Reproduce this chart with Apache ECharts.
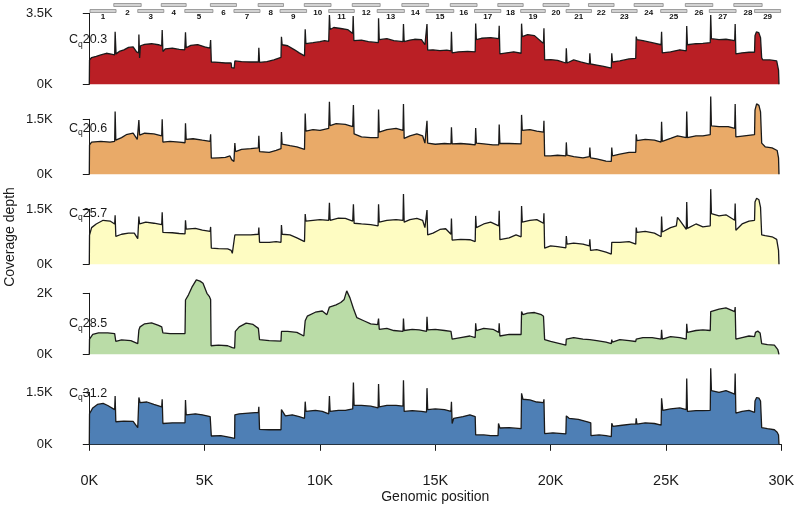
<!DOCTYPE html>
<html><head><meta charset="utf-8">
<script src="https://cdn.jsdelivr.net/npm/echarts@6/dist/echarts.min.js"></script>
<style>html,body{margin:0;padding:0;background:#fff}#c{width:800px;height:513px}</style>
</head><body><div id="c"></div>
<script>
// ---- data (positions in kb, depth in thousands of reads) ----
const xTicks = [0, 5, 10, 15, 20, 25, 30];
const ampliconLabels = ['1','2','3','4','5','6','7','8','9','10','11','12','13','14','15','16','17','18','19','20','21','22','23','24','25','26','27','28','29'];
const ampliconStart = [0.03,1.06,2.10,3.12,4.14,5.25,6.27,7.32,8.27,9.32,10.38,11.40,12.48,13.55,14.60,15.65,16.70,17.71,18.70,19.67,20.67,21.64,22.64,23.62,24.77,25.84,26.88,27.94,28.84];
const ampliconEnd   = [1.16,2.25,3.23,4.20,5.36,6.38,7.40,8.42,9.42,10.48,11.49,12.61,13.66,14.71,15.80,16.81,17.84,18.81,19.77,20.80,21.77,22.75,23.75,24.88,25.91,27.03,28.04,29.17,29.97];

const panelCq = ['20.3', '20.6', '25.7', '28.5', '31.2'];
const panelYLabelMax = [3.5, 1.5, 1.5, 2, 1.5];

const coverageCq203 = [[0,0],[0.01,1.2],[0.1,1.32],[0.3,1.38],[0.5,1.45],[0.74,1.53],[1.0,1.48],[1.1,1.45],
[1.12,2.59],[1.16,1.5],[1.3,1.62],[1.5,1.7],[1.7,1.82],[1.9,1.84],[2.05,1.6],[2.14,1.55],
[2.15,2.46],[2.18,1.3],[2.22,1.9],[2.4,1.97],[2.7,2.0],[3.0,1.95],[3.14,1.9],
[3.16,2.67],[3.19,1.62],[3.3,1.75],[3.6,1.78],[3.9,1.72],[4.14,1.7],
[4.17,2.56],[4.2,1.8],[4.4,1.92],[4.7,1.96],[5.0,1.85],[5.23,1.78],
[5.26,2.18],[5.29,1.1],[5.6,1.08],[5.9,1.05],[6.15,1.05],[6.17,0.82],[6.28,0.8],[6.31,1.15],[6.6,1.12],[7.0,1.1],[7.33,1.1],
[7.35,1.8],[7.38,1.08],[7.7,1.12],[8.0,1.2],[8.31,1.33],
[8.33,2.34],[8.36,1.95],[8.6,1.9],[8.9,1.7],[9.1,1.55],[9.33,1.4],
[9.36,2.71],[9.39,2.0],[9.7,2.05],[10.0,2.1],[10.2,2.15],[10.38,2.12],
[10.41,3.41],[10.44,2.7],[10.6,2.8],[10.9,2.75],[11.2,2.7],[11.42,2.5],
[11.44,3.36],[11.47,2.15],[11.8,2.18],[12.1,2.1],[12.53,2.05],
[12.54,3.25],[12.57,2.2],[12.9,2.25],[13.2,2.15],[13.6,2.1],
[13.62,2.97],[13.65,2.1],[13.9,2.18],[14.1,2.22],[14.4,2.2],[14.55,1.95],[14.62,1.9],
[14.64,2.97],[14.67,1.68],[14.9,1.7],[15.2,1.66],[15.5,1.68],[15.68,1.65],
[15.7,2.59],[15.73,1.55],[16.0,1.6],[16.4,1.62],[16.73,1.6],
[16.75,3.0],[16.78,2.2],[17.0,2.27],[17.4,2.3],[17.75,2.25],
[17.77,2.89],[17.8,1.5],[18.1,1.55],[18.4,1.6],[18.72,1.53],
[18.74,2.99],[18.77,2.35],[19.0,2.45],[19.3,2.4],[19.6,2.1],[19.69,2.02],
[19.71,2.76],[19.74,1.2],[20.0,1.22],[20.3,1.18],[20.66,1.05],
[20.68,1.77],[20.71,1.05],[21.0,1.2],[21.3,1.1],[21.68,1.0],
[21.7,1.53],[21.73,1.0],[22.0,0.95],[22.3,0.88],[22.63,0.8],
[22.65,1.53],[22.68,1.1],[23.0,1.15],[23.4,1.25],[23.69,1.28],
[23.71,2.35],[23.74,2.2],[24.0,2.15],[24.4,2.05],[24.79,1.95],
[24.81,2.59],[24.84,1.55],[25.2,1.6],[25.6,1.7],[25.88,1.65],
[25.9,2.87],[25.93,1.95],[26.3,2.0],[26.6,2.02],[26.92,2.05],
[26.94,3.41],[26.97,2.25],[27.3,2.2],[27.6,2.22],[27.98,2.15],
[28.0,2.97],[28.03,1.5],[28.3,1.55],[28.6,1.58],[28.84,1.58],
[28.86,2.4],[28.92,2.58],[29.02,2.55],[29.1,2.3],[29.15,1.3],[29.2,1.2],[29.5,1.2],[29.8,1.15],[29.88,0.7],[29.9,0]];

const coverageCq206 = [[0,0],[0.01,0.8],[0.1,0.88],[0.5,0.9],[0.9,0.88],[1.1,0.9],
[1.12,1.71],[1.15,0.93],[1.4,1.0],[1.6,1.08],[1.9,1.12],[2.08,0.95],[2.14,0.9],
[2.15,1.48],[2.18,1.07],[2.4,1.12],[2.8,1.1],[3.14,1.05],
[3.16,1.5],[3.19,0.88],[3.5,0.9],[3.9,0.88],[4.15,0.86],
[4.17,1.39],[4.2,0.95],[4.5,0.97],[4.9,0.93],[5.24,0.9],
[5.26,1.09],[5.29,0.44],[5.6,0.45],[5.9,0.46],[6.1,0.5],[6.17,0.4],[6.27,0.35],[6.3,0.36],
[6.31,0.85],[6.34,0.62],[6.6,0.68],[7.0,0.7],[7.33,0.72],
[7.35,1.05],[7.38,0.62],[7.8,0.6],[8.1,0.65],[8.31,0.7],
[8.33,1.15],[8.36,0.82],[8.7,0.78],[9.0,0.75],[9.33,0.68],
[9.36,1.66],[9.39,1.18],[9.7,1.22],[10.0,1.2],[10.38,1.25],
[10.41,1.98],[10.44,1.33],[10.7,1.38],[11.1,1.36],[11.42,1.3],
[11.45,1.89],[11.48,1.1],[11.8,1.02],[12.2,1.0],[12.52,1.0],
[12.54,1.77],[12.57,1.15],[12.9,1.22],[13.3,1.25],[13.6,1.2],
[13.62,1.92],[13.65,0.98],[13.9,1.05],[14.2,1.1],[14.45,1.05],[14.55,0.85],[14.62,0.83],
[14.64,1.46],[14.67,0.85],[15.0,0.82],[15.4,0.84],[15.68,0.83],
[15.7,1.28],[15.73,0.83],[16.1,0.84],[16.5,0.82],[16.73,0.8],
[16.75,1.26],[16.78,0.85],[17.1,0.83],[17.5,0.8],[17.75,0.8],
[17.77,1.36],[17.8,0.84],[18.2,0.84],[18.72,0.83],
[18.74,1.62],[18.77,1.2],[19.1,1.22],[19.4,1.18],[19.69,1.15],
[19.71,1.46],[19.74,0.5],[20.0,0.5],[20.3,0.52],[20.66,0.5],
[20.68,0.87],[20.71,0.52],[21.0,0.48],[21.4,0.45],[21.68,0.48],
[21.7,0.73],[21.73,0.45],[22.0,0.42],[22.4,0.36],[22.63,0.35],
[22.65,0.73],[22.68,0.5],[23.0,0.55],[23.4,0.6],[23.69,0.6],
[23.71,1.09],[23.74,0.92],[24.1,0.95],[24.5,0.93],[24.79,0.88],
[24.81,1.43],[24.84,0.9],[25.2,0.98],[25.5,1.05],[25.88,1.0],
[25.9,1.71],[25.93,1.0],[26.3,1.05],[26.6,1.05],[26.92,1.08],
[26.94,2.12],[26.97,1.32],[27.3,1.3],[27.7,1.3],[27.98,1.25],
[28.0,1.92],[28.03,1.02],[28.4,1.05],[28.84,1.08],
[28.86,1.75],[28.93,1.92],[29.03,1.88],[29.1,1.7],[29.15,0.85],[29.3,0.75],[29.6,0.72],[29.82,0.65],[29.88,0.45],[29.9,0]];

const coverageCq257 = [[0,0],[0.01,0.8],[0.1,1.0],[0.3,1.1],[0.6,1.2],[0.9,1.18],[1.1,1.1],
[1.12,1.34],[1.15,0.76],[1.4,0.82],[1.7,0.85],[1.95,0.85],[2.1,0.7],[2.14,0.68],
[2.15,1.3],[2.18,1.1],[2.45,1.15],[2.8,1.12],[3.14,1.08],
[3.16,1.42],[3.19,0.87],[3.6,0.86],[3.9,0.84],[4.15,0.83],
[4.17,1.2],[4.2,0.96],[4.6,0.98],[4.9,0.93],[5.24,0.9],
[5.26,1.02],[5.29,0.44],[5.6,0.43],[6.0,0.42],[6.15,0.38],[6.2,0.3],[6.28,0.3],
[6.31,0.8],[6.34,0.78],[6.7,0.8],[7.0,0.8],[7.33,0.82],
[7.35,1.0],[7.38,0.6],[7.8,0.6],[8.1,0.62],[8.31,0.6],
[8.33,1.07],[8.36,0.82],[8.7,0.8],[9.0,0.72],[9.33,0.62],
[9.36,1.37],[9.39,1.18],[9.7,1.2],[10.0,1.22],[10.38,1.2],
[10.41,1.68],[10.44,1.2],[10.8,1.26],[11.1,1.25],[11.42,1.18],
[11.45,1.64],[11.48,1.12],[11.8,1.1],[12.2,1.08],[12.52,1.05],
[12.54,1.64],[12.57,1.15],[12.9,1.2],[13.3,1.22],[13.6,1.2],
[13.62,1.92],[13.65,1.15],[13.9,1.22],[14.2,1.25],[14.45,1.2],[14.55,1.0],[14.62,0.97],
[14.64,1.48],[14.67,0.8],[14.9,0.85],[15.2,0.95],[15.45,0.97],[15.68,0.82],
[15.7,1.25],[15.73,0.66],[16.1,0.68],[16.5,0.67],[16.73,0.62],
[16.75,1.32],[16.78,1.0],[17.1,1.1],[17.4,1.15],[17.75,1.05],
[17.77,1.46],[17.8,0.67],[18.2,0.72],[18.5,0.8],[18.72,0.75],
[18.74,1.59],[18.77,1.15],[19.1,1.2],[19.4,1.22],[19.69,1.12],
[19.71,1.39],[19.74,0.44],[20.0,0.5],[20.3,0.48],[20.66,0.45],
[20.68,0.77],[20.71,0.55],[21.0,0.58],[21.4,0.55],[21.68,0.5],
[21.7,0.68],[21.73,0.38],[22.0,0.4],[22.4,0.33],[22.63,0.28],
[22.65,0.6],[22.68,0.58],[23.0,0.6],[23.4,0.62],[23.69,0.55],
[23.71,1.0],[23.74,0.87],[24.1,0.9],[24.5,0.85],[24.79,0.75],
[24.81,1.3],[24.84,0.88],[25.2,1.0],[25.45,1.05],[25.5,1.28],[25.6,1.2],[25.88,0.95],
[25.9,1.7],[25.93,0.98],[26.3,1.1],[26.6,1.02],[26.92,1.05],
[26.94,2.05],[26.97,1.38],[27.3,1.32],[27.6,1.35],[27.98,1.2],
[28.0,1.66],[28.03,0.93],[28.3,1.1],[28.6,1.18],[28.84,1.2],
[28.86,1.7],[28.93,1.8],[29.03,1.76],[29.1,1.55],[29.15,0.8],[29.3,0.78],[29.6,0.75],[29.8,0.68],[29.88,0.38],[29.9,0]];

const coverageCq285 = [[0,0],[0.01,0.5],[0.15,0.65],[0.4,0.7],[0.8,0.7],[1.1,0.68],
[1.12,0.73],[1.15,0.42],[1.4,0.47],[1.8,0.45],[2.1,0.35],[2.14,0.3],
[2.15,0.8],[2.2,0.9],[2.4,1.0],[2.7,1.03],[3.0,0.95],[3.14,0.9],[3.16,0.93],[3.19,0.7],[3.5,0.68],[3.9,0.68],[4.15,0.68],
[4.17,1.78],[4.3,1.95],[4.45,2.2],[4.64,2.44],[4.8,2.4],[4.93,2.33],[5.1,2.0],[5.2,1.9],[5.26,1.8],[5.28,0.28],[5.6,0.3],[6.0,0.28],[6.2,0.22],[6.3,0.2],
[6.33,0.75],[6.5,0.9],[6.8,1.02],[7.1,0.98],[7.33,0.85],[7.35,0.9],[7.38,0.48],[7.8,0.45],[8.31,0.43],
[8.33,0.75],[8.6,0.75],[9.0,0.72],[9.3,0.6],[9.34,0.55],
[9.36,1.1],[9.45,1.25],[9.8,1.38],[10.1,1.42],[10.3,1.3],[10.38,1.25],
[10.41,1.55],[10.44,1.5],[10.7,1.62],[10.9,1.7],[11.05,1.8],[11.16,2.08],[11.3,1.85],[11.45,1.5],[11.6,1.2],[11.9,1.1],[12.2,1.0],[12.5,0.97],
[12.54,1.17],[12.57,0.82],[12.9,0.85],[13.2,0.78],[13.6,0.75],
[13.62,1.17],[13.65,0.78],[14.0,0.82],[14.3,0.8],[14.62,0.75],
[14.64,1.23],[14.67,0.8],[15.0,0.82],[15.4,0.78],[15.68,0.75],
[15.7,0.8],[15.73,0.5],[16.1,0.55],[16.5,0.6],[16.73,0.55],
[16.75,1.02],[16.78,0.78],[17.1,0.85],[17.5,0.82],[17.75,0.72],
[17.77,1.02],[17.8,0.6],[18.2,0.65],[18.72,0.65],
[18.74,1.4],[18.8,1.3],[19.0,1.35],[19.3,1.37],[19.6,1.3],[19.69,1.25],
[19.71,1.23],[19.74,0.48],[20.0,0.42],[20.4,0.35],[20.66,0.3],
[20.68,0.5],[21.0,0.55],[21.4,0.5],[21.7,0.48],[21.73,0.42],[22.0,0.45],[22.4,0.4],[22.63,0.35],[22.65,0.48],[22.68,0.4],[23.0,0.48],[23.4,0.45],[23.69,0.42],[23.71,0.5],[24.0,0.55],[24.4,0.55],[24.79,0.5],
[24.81,0.8],[24.84,0.5],[25.2,0.58],[25.6,0.55],[25.88,0.5],
[25.9,1.0],[25.93,0.72],[26.3,0.78],[26.6,0.8],[26.92,0.78],
[26.94,1.4],[27.0,1.35],[27.3,1.48],[27.6,1.52],[27.98,1.4],
[28.0,1.55],[28.03,0.5],[28.3,0.55],[28.6,0.6],[28.84,0.58],
[28.88,0.72],[28.98,0.76],[29.08,0.7],[29.15,0.35],[29.4,0.32],[29.7,0.3],[29.85,0.15],[29.9,0]];

const coverageCq312 = [[0,0],[0.01,0.88],[0.15,1.05],[0.35,1.15],[0.6,1.18],[0.8,1.12],[1.1,1.0],
[1.12,1.39],[1.15,0.65],[1.5,0.67],[1.9,0.66],[2.1,0.48],[2.14,0.46],
[2.15,1.35],[2.2,1.2],[2.5,1.22],[2.8,1.15],[3.14,1.08],
[3.16,1.3],[3.19,0.6],[3.6,0.62],[4.15,0.62],
[4.17,1.28],[4.2,0.85],[4.6,0.88],[4.9,0.85],[5.24,0.8],
[5.26,0.85],[5.29,0.24],[5.7,0.25],[6.1,0.2],[6.3,0.17],
[6.31,0.85],[6.5,0.88],[6.9,0.9],[7.33,0.92],
[7.35,1.08],[7.38,0.43],[7.8,0.42],[8.31,0.42],
[8.33,1.0],[8.5,0.82],[8.8,0.85],[9.1,0.8],[9.33,0.75],
[9.36,1.23],[9.39,0.95],[9.8,0.98],[10.1,0.95],[10.38,0.88],
[10.41,1.39],[10.44,0.95],[10.8,0.98],[11.1,0.98],[11.42,1.02],
[11.45,1.78],[11.48,1.12],[11.8,1.12],[12.2,1.1],[12.52,1.05],
[12.54,1.74],[12.57,1.08],[12.9,1.12],[13.3,1.12],[13.6,1.1],
[13.62,1.85],[13.65,0.95],[14.0,0.97],[14.4,0.95],[14.62,0.93],
[14.64,1.62],[14.67,1.0],[15.0,1.02],[15.4,1.0],[15.68,0.95],
[15.7,1.23],[15.73,0.6],[15.8,0.75],[16.2,0.8],[16.5,0.85],[16.73,0.8],
[16.75,0.27],[17.1,0.27],[17.4,0.25],[17.72,0.25],
[17.74,0.6],[17.8,0.47],[18.2,0.48],[18.72,0.45],
[18.74,1.47],[18.8,1.3],[19.1,1.28],[19.4,1.22],[19.69,1.2],
[19.71,1.3],[19.74,0.31],[20.1,0.33],[20.66,0.3],
[20.68,0.82],[20.8,0.75],[21.2,0.72],[21.6,0.65],[21.74,0.62],
[21.75,0.25],[22.1,0.27],[22.4,0.25],[22.63,0.22],
[22.65,0.61],[22.7,0.52],[23.1,0.55],[23.5,0.58],[23.69,0.58],[23.71,0.75],[23.74,0.58],[24.1,0.62],[24.5,0.6],[24.79,0.55],
[24.81,1.33],[24.86,0.98],[25.2,1.02],[25.6,1.05],[25.88,1.0],
[25.9,1.9],[25.93,0.95],[26.3,0.97],[26.6,0.97],[26.92,0.98],
[26.94,2.19],[26.97,1.55],[27.3,1.5],[27.6,1.55],[27.98,1.45],
[28.0,2.04],[28.03,0.9],[28.3,0.95],[28.6,0.98],[28.84,0.92],
[28.86,1.25],[28.93,1.35],[29.03,1.33],[29.1,1.25],[29.15,0.48],[29.4,0.45],[29.7,0.42],[29.82,0.35],[29.88,0.27],[29.9,0]];

const coverageSeries = [coverageCq203, coverageCq206, coverageCq257, coverageCq285, coverageCq312];

// ---- styles / layout ----
const FONT = '"Liberation Sans", Arial, Helvetica, sans-serif';
const INK = '#1a1a1a';
const fills = ['#BA1F25', '#E9AA68', '#FEFCC2', '#BADCA7', '#4E7FB5'];
const gridsPx = [
  {top: 13.3, height: 71},
  {top: 119.3, height: 55},
  {top: 209.3, height: 55},
  {top: 293.3, height: 61},
  {top: 392.3, height: 52}
];
const labelY = [40, 128.3, 213.3, 324, 393.3];
const LEFT = 89.3, RIGHT = 800 - 781.3;

const grid = [{left: LEFT, right: RIGHT, top: 0, height: 20}];
gridsPx.forEach(g => grid.push({left: LEFT, right: RIGHT, top: g.top, height: g.height}));

const xAxis = [], yAxis = [], series = [];
// amplicon track
xAxis.push({gridIndex: 0, type: 'value', min: 0, max: 30, show: false});
yAxis.push({gridIndex: 0, type: 'value', min: 0, max: 20, inverse: true, show: false});
const ampData = ampliconStart.map((s, i) => [s, ampliconEnd[i], i % 2, ampliconLabels[i]]);
series.push({
  type: 'custom', xAxisIndex: 0, yAxisIndex: 0, data: ampData, silent: true, clip: false,
  renderItem(params, api) {
    const s = api.value(0), e = api.value(1), row = api.value(2);
    const lab = ampData[params.dataIndex][3];
    const yTop = row === 1 ? 3.5 : 9.5;
    const p0 = api.coord([s, yTop]);
    const p1 = api.coord([e, yTop + 3]);
    const pc = api.coord([(s + e) / 2, row === 1 ? 12.3 : 17]);
    return {type: 'group', children: [
      {type: 'rect', shape: {x: p0[0], y: p0[1], width: p1[0] - p0[0], height: p1[1] - p0[1]},
       style: {fill: '#d3d3d3', stroke: '#8a8a8a', lineWidth: 0.8}},
      {type: 'text', x: pc[0], y: pc[1],
       style: {text: lab, fill: '#111', font: 'bold 8px ' + FONT, align: 'center', verticalAlign: 'middle'}}
    ]};
  }
});

coverageSeries.forEach((data, i) => {
  const gi = i + 1;
  const last = i === coverageSeries.length - 1;
  xAxis.push(last ? {
    gridIndex: gi, type: 'value', min: 0, max: 30, interval: 5, offset: 15.7,
    axisLine: {show: true, lineStyle: {color: INK, width: 1}},
    axisTick: {show: true, length: 6.5, lineStyle: {color: INK, width: 1}},
    axisLabel: {formatter: v => v + 'K', fontSize: 14.5, color: INK, margin: 13, fontFamily: FONT},
    splitLine: {show: false},
    name: 'Genomic position', nameLocation: 'middle', nameGap: 30,
    nameTextStyle: {fontSize: 14, color: INK, fontFamily: FONT}
  } : {gridIndex: gi, type: 'value', min: 0, max: 30, show: false});
  yAxis.push({
    gridIndex: gi, type: 'value', min: 0, max: panelYLabelMax[i], interval: panelYLabelMax[i], offset: 27.6,
    axisLine: {show: true, lineStyle: {color: INK, width: 1}},
    axisTick: {show: true, length: 6.5, lineStyle: {color: INK, width: 1}},
    axisLabel: {formatter: v => v + 'K', fontSize: 13, color: INK, margin: 9, fontFamily: FONT},
    splitLine: {show: false}
  });
  series.push({
    type: 'line', xAxisIndex: gi, yAxisIndex: gi, data: data, clip: false,
    symbol: 'none', showSymbol: false, smooth: false, silent: true,
    lineStyle: {color: INK, width: 1.3},
    areaStyle: {color: fills[i], opacity: 1}
  });
});

const graphic = panelCq.map((cq, i) => ({
  type: 'text', x: 69, y: labelY[i], z: 100,
  style: {
    text: '{c|C}{q|q}{n|' + cq + '}', align: 'left', verticalAlign: 'middle',
    rich: {
      c: {fontSize: 12.5, fontFamily: FONT, fill: INK, color: INK, lineHeight: 18, verticalAlign: 'middle'},
      q: {fontSize: 8.5, fontFamily: FONT, fill: INK, color: INK, lineHeight: 18, verticalAlign: 'bottom'},
      n: {fontSize: 12.5, fontFamily: FONT, fill: INK, color: INK, lineHeight: 18, verticalAlign: 'middle'}
    }
  }
}));
graphic.push({
  type: 'text', x: 10, y: 237, rotation: Math.PI / 2,
  style: {text: 'Coverage depth', font: '14px ' + FONT, fill: INK, align: 'center', verticalAlign: 'middle'}
});

const chart = echarts.init(document.getElementById('c'), null, {renderer: 'canvas'});
chart.setOption({animation: false, backgroundColor: '#fff', grid, xAxis, yAxis, series, graphic});
</script></body></html>
